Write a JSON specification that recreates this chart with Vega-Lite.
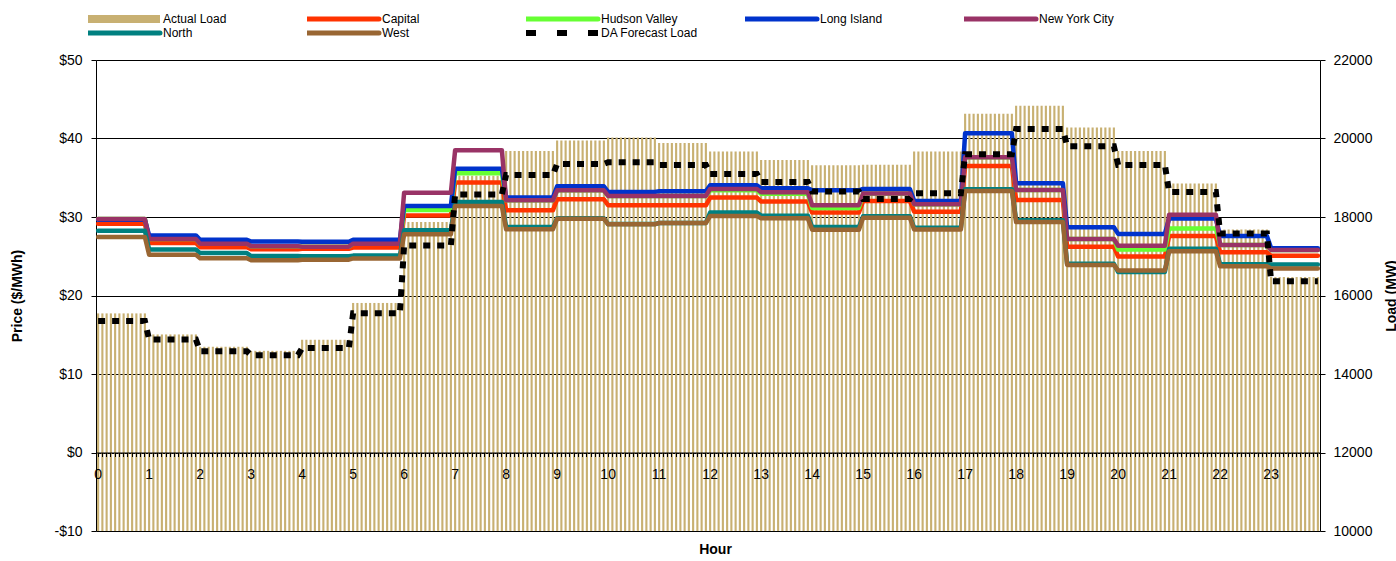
{
"$schema": "https://vega.github.io/schema/vega-lite/v6.json",
"width": 1224, "height": 471,
"autosize": {"type": "none"},
"padding": {"left": 96, "top": 60, "right": 76, "bottom": 30},
"config": {"font": "Liberation Sans", "view": {"stroke": null},
 "axis": {"labelColor": "#000", "titleColor": "#000", "domainColor": "#000", "tickColor": "#000", "labelFont": "Liberation Sans", "titleFont": "Liberation Sans"}},
"datasets": {
"five": [
{"t":0,"h":0,"L":15544},{"t":1,"h":0,"L":15544},{"t":2,"h":0,"L":15544},{"t":3,"h":0,"L":15544},{"t":4,"h":0,"L":15544},{"t":5,"h":0,"L":15544},{"t":6,"h":0,"L":15544},{"t":7,"h":0,"L":15544},{"t":8,"h":0,"L":15544},{"t":9,"h":0,"L":15544},{"t":10,"h":0,"L":15544},{"t":11,"h":0,"L":15544},
{"t":12,"h":1,"L":15008},{"t":13,"h":1,"L":15008},{"t":14,"h":1,"L":15008},{"t":15,"h":1,"L":15008},{"t":16,"h":1,"L":15008},{"t":17,"h":1,"L":15008},{"t":18,"h":1,"L":15008},{"t":19,"h":1,"L":15008},{"t":20,"h":1,"L":15008},{"t":21,"h":1,"L":15008},{"t":22,"h":1,"L":15008},{"t":23,"h":1,"L":15008},
{"t":24,"h":2,"L":14694},{"t":25,"h":2,"L":14694},{"t":26,"h":2,"L":14694},{"t":27,"h":2,"L":14694},{"t":28,"h":2,"L":14694},{"t":29,"h":2,"L":14694},{"t":30,"h":2,"L":14694},{"t":31,"h":2,"L":14694},{"t":32,"h":2,"L":14694},{"t":33,"h":2,"L":14694},{"t":34,"h":2,"L":14694},{"t":35,"h":2,"L":14694},
{"t":36,"h":3,"L":14590},{"t":37,"h":3,"L":14590},{"t":38,"h":3,"L":14590},{"t":39,"h":3,"L":14590},{"t":40,"h":3,"L":14590},{"t":41,"h":3,"L":14590},{"t":42,"h":3,"L":14590},{"t":43,"h":3,"L":14590},{"t":44,"h":3,"L":14590},{"t":45,"h":3,"L":14590},{"t":46,"h":3,"L":14590},{"t":47,"h":3,"L":14590},
{"t":48,"h":4,"L":14872},{"t":49,"h":4,"L":14872},{"t":50,"h":4,"L":14872},{"t":51,"h":4,"L":14872},{"t":52,"h":4,"L":14872},{"t":53,"h":4,"L":14872},{"t":54,"h":4,"L":14872},{"t":55,"h":4,"L":14872},{"t":56,"h":4,"L":14872},{"t":57,"h":4,"L":14872},{"t":58,"h":4,"L":14872},{"t":59,"h":4,"L":14872},
{"t":60,"h":5,"L":15810},{"t":61,"h":5,"L":15810},{"t":62,"h":5,"L":15810},{"t":63,"h":5,"L":15810},{"t":64,"h":5,"L":15810},{"t":65,"h":5,"L":15810},{"t":66,"h":5,"L":15810},{"t":67,"h":5,"L":15810},{"t":68,"h":5,"L":15810},{"t":69,"h":5,"L":15810},{"t":70,"h":5,"L":15810},{"t":71,"h":5,"L":15810},
{"t":72,"h":6,"L":17870},{"t":73,"h":6,"L":17870},{"t":74,"h":6,"L":17870},{"t":75,"h":6,"L":17870},{"t":76,"h":6,"L":17870},{"t":77,"h":6,"L":17870},{"t":78,"h":6,"L":17870},{"t":79,"h":6,"L":17870},{"t":80,"h":6,"L":17870},{"t":81,"h":6,"L":17870},{"t":82,"h":6,"L":17870},{"t":83,"h":6,"L":17870},
{"t":84,"h":7,"L":19050},{"t":85,"h":7,"L":19050},{"t":86,"h":7,"L":19050},{"t":87,"h":7,"L":19050},{"t":88,"h":7,"L":19050},{"t":89,"h":7,"L":19050},{"t":90,"h":7,"L":19050},{"t":91,"h":7,"L":19050},{"t":92,"h":7,"L":19050},{"t":93,"h":7,"L":19050},{"t":94,"h":7,"L":19050},{"t":95,"h":7,"L":19050},
{"t":96,"h":8,"L":19684},{"t":97,"h":8,"L":19684},{"t":98,"h":8,"L":19684},{"t":99,"h":8,"L":19684},{"t":100,"h":8,"L":19684},{"t":101,"h":8,"L":19684},{"t":102,"h":8,"L":19684},{"t":103,"h":8,"L":19684},{"t":104,"h":8,"L":19684},{"t":105,"h":8,"L":19684},{"t":106,"h":8,"L":19684},{"t":107,"h":8,"L":19684},
{"t":108,"h":9,"L":19948},{"t":109,"h":9,"L":19948},{"t":110,"h":9,"L":19948},{"t":111,"h":9,"L":19948},{"t":112,"h":9,"L":19948},{"t":113,"h":9,"L":19948},{"t":114,"h":9,"L":19948},{"t":115,"h":9,"L":19948},{"t":116,"h":9,"L":19948},{"t":117,"h":9,"L":19948},{"t":118,"h":9,"L":19948},{"t":119,"h":9,"L":19948},
{"t":120,"h":10,"L":20024},{"t":121,"h":10,"L":20024},{"t":122,"h":10,"L":20024},{"t":123,"h":10,"L":20024},{"t":124,"h":10,"L":20024},{"t":125,"h":10,"L":20024},{"t":126,"h":10,"L":20024},{"t":127,"h":10,"L":20024},{"t":128,"h":10,"L":20024},{"t":129,"h":10,"L":20024},{"t":130,"h":10,"L":20024},{"t":131,"h":10,"L":20024},
{"t":132,"h":11,"L":19888},{"t":133,"h":11,"L":19888},{"t":134,"h":11,"L":19888},{"t":135,"h":11,"L":19888},{"t":136,"h":11,"L":19888},{"t":137,"h":11,"L":19888},{"t":138,"h":11,"L":19888},{"t":139,"h":11,"L":19888},{"t":140,"h":11,"L":19888},{"t":141,"h":11,"L":19888},{"t":142,"h":11,"L":19888},{"t":143,"h":11,"L":19888},
{"t":144,"h":12,"L":19668},{"t":145,"h":12,"L":19668},{"t":146,"h":12,"L":19668},{"t":147,"h":12,"L":19668},{"t":148,"h":12,"L":19668},{"t":149,"h":12,"L":19668},{"t":150,"h":12,"L":19668},{"t":151,"h":12,"L":19668},{"t":152,"h":12,"L":19668},{"t":153,"h":12,"L":19668},{"t":154,"h":12,"L":19668},{"t":155,"h":12,"L":19668},
{"t":156,"h":13,"L":19454},{"t":157,"h":13,"L":19454},{"t":158,"h":13,"L":19454},{"t":159,"h":13,"L":19454},{"t":160,"h":13,"L":19454},{"t":161,"h":13,"L":19454},{"t":162,"h":13,"L":19454},{"t":163,"h":13,"L":19454},{"t":164,"h":13,"L":19454},{"t":165,"h":13,"L":19454},{"t":166,"h":13,"L":19454},{"t":167,"h":13,"L":19454},
{"t":168,"h":14,"L":19320},{"t":169,"h":14,"L":19320},{"t":170,"h":14,"L":19320},{"t":171,"h":14,"L":19320},{"t":172,"h":14,"L":19320},{"t":173,"h":14,"L":19320},{"t":174,"h":14,"L":19320},{"t":175,"h":14,"L":19320},{"t":176,"h":14,"L":19320},{"t":177,"h":14,"L":19320},{"t":178,"h":14,"L":19320},{"t":179,"h":14,"L":19320},
{"t":180,"h":15,"L":19330},{"t":181,"h":15,"L":19330},{"t":182,"h":15,"L":19330},{"t":183,"h":15,"L":19330},{"t":184,"h":15,"L":19330},{"t":185,"h":15,"L":19330},{"t":186,"h":15,"L":19330},{"t":187,"h":15,"L":19330},{"t":188,"h":15,"L":19330},{"t":189,"h":15,"L":19330},{"t":190,"h":15,"L":19330},{"t":191,"h":15,"L":19330},
{"t":192,"h":16,"L":19668},{"t":193,"h":16,"L":19668},{"t":194,"h":16,"L":19668},{"t":195,"h":16,"L":19668},{"t":196,"h":16,"L":19668},{"t":197,"h":16,"L":19668},{"t":198,"h":16,"L":19668},{"t":199,"h":16,"L":19668},{"t":200,"h":16,"L":19668},{"t":201,"h":16,"L":19668},{"t":202,"h":16,"L":19668},{"t":203,"h":16,"L":19668},
{"t":204,"h":17,"L":20630},{"t":205,"h":17,"L":20630},{"t":206,"h":17,"L":20630},{"t":207,"h":17,"L":20630},{"t":208,"h":17,"L":20630},{"t":209,"h":17,"L":20630},{"t":210,"h":17,"L":20630},{"t":211,"h":17,"L":20630},{"t":212,"h":17,"L":20630},{"t":213,"h":17,"L":20630},{"t":214,"h":17,"L":20630},{"t":215,"h":17,"L":20630},
{"t":216,"h":18,"L":20835},{"t":217,"h":18,"L":20835},{"t":218,"h":18,"L":20835},{"t":219,"h":18,"L":20835},{"t":220,"h":18,"L":20835},{"t":221,"h":18,"L":20835},{"t":222,"h":18,"L":20835},{"t":223,"h":18,"L":20835},{"t":224,"h":18,"L":20835},{"t":225,"h":18,"L":20835},{"t":226,"h":18,"L":20835},{"t":227,"h":18,"L":20835},
{"t":228,"h":19,"L":20280},{"t":229,"h":19,"L":20280},{"t":230,"h":19,"L":20280},{"t":231,"h":19,"L":20280},{"t":232,"h":19,"L":20280},{"t":233,"h":19,"L":20280},{"t":234,"h":19,"L":20280},{"t":235,"h":19,"L":20280},{"t":236,"h":19,"L":20280},{"t":237,"h":19,"L":20280},{"t":238,"h":19,"L":20280},{"t":239,"h":19,"L":20280},
{"t":240,"h":20,"L":19684},{"t":241,"h":20,"L":19684},{"t":242,"h":20,"L":19684},{"t":243,"h":20,"L":19684},{"t":244,"h":20,"L":19684},{"t":245,"h":20,"L":19684},{"t":246,"h":20,"L":19684},{"t":247,"h":20,"L":19684},{"t":248,"h":20,"L":19684},{"t":249,"h":20,"L":19684},{"t":250,"h":20,"L":19684},{"t":251,"h":20,"L":19684},
{"t":252,"h":21,"L":18852},{"t":253,"h":21,"L":18852},{"t":254,"h":21,"L":18852},{"t":255,"h":21,"L":18852},{"t":256,"h":21,"L":18852},{"t":257,"h":21,"L":18852},{"t":258,"h":21,"L":18852},{"t":259,"h":21,"L":18852},{"t":260,"h":21,"L":18852},{"t":261,"h":21,"L":18852},{"t":262,"h":21,"L":18852},{"t":263,"h":21,"L":18852},
{"t":264,"h":22,"L":17680},{"t":265,"h":22,"L":17680},{"t":266,"h":22,"L":17680},{"t":267,"h":22,"L":17680},{"t":268,"h":22,"L":17680},{"t":269,"h":22,"L":17680},{"t":270,"h":22,"L":17680},{"t":271,"h":22,"L":17680},{"t":272,"h":22,"L":17680},{"t":273,"h":22,"L":17680},{"t":274,"h":22,"L":17680},{"t":275,"h":22,"L":17680},
{"t":276,"h":23,"L":16470},{"t":277,"h":23,"L":16470},{"t":278,"h":23,"L":16470},{"t":279,"h":23,"L":16470},{"t":280,"h":23,"L":16470},{"t":281,"h":23,"L":16470},{"t":282,"h":23,"L":16470},{"t":283,"h":23,"L":16470},{"t":284,"h":23,"L":16470},{"t":285,"h":23,"L":16470},{"t":286,"h":23,"L":16470},{"t":287,"h":23,"L":16470}
],
"hourly": [
{"h":0,"C":29.15,"HV":29.75,"LI":29.65,"NYC":29.75,"N":28.25,"W":27.45,"DA":15348},
{"h":1,"C":26.7,"HV":27.2,"LI":27.65,"NYC":27.2,"N":25.85,"W":25.2,"DA":14880},
{"h":2,"C":26.15,"HV":26.6,"LI":27.1,"NYC":26.6,"N":25.4,"W":24.75,"DA":14582},
{"h":3,"C":25.9,"HV":26.28,"LI":26.88,"NYC":26.28,"N":25.02,"W":24.5,"DA":14480},
{"h":4,"C":25.95,"HV":26.22,"LI":26.85,"NYC":26.22,"N":25.0,"W":24.56,"DA":14660},
{"h":5,"C":26.1,"HV":26.6,"LI":27.1,"NYC":26.6,"N":25.08,"W":24.72,"DA":15550},
{"h":6,"C":30.2,"HV":30.9,"LI":31.4,"NYC":33.1,"N":28.3,"W":27.8,"DA":17275},
{"h":7,"C":34.4,"HV":35.57,"LI":36.15,"NYC":38.5,"N":31.9,"W":31.4,"DA":18575},
{"h":8,"C":30.85,"HV":32.13,"LI":32.47,"NYC":32.13,"N":28.73,"W":28.43,"DA":19072},
{"h":9,"C":32.26,"HV":33.4,"LI":33.92,"NYC":33.4,"N":29.83,"W":29.79,"DA":19352},
{"h":10,"C":31.49,"HV":32.68,"LI":33.2,"NYC":32.68,"N":29.1,"W":29.07,"DA":19396},
{"h":11,"C":31.49,"HV":32.68,"LI":33.28,"NYC":32.68,"N":29.24,"W":29.24,"DA":19328},
{"h":12,"C":32.47,"HV":33.4,"LI":34.04,"NYC":33.58,"N":30.56,"W":30.13,"DA":19098},
{"h":13,"C":31.96,"HV":32.95,"LI":33.66,"NYC":33.15,"N":30.17,"W":29.83,"DA":18894},
{"h":14,"C":30.56,"HV":31.15,"LI":33.4,"NYC":31.49,"N":28.73,"W":28.39,"DA":18648},
{"h":15,"C":32.04,"HV":32.98,"LI":33.58,"NYC":32.98,"N":30.09,"W":29.92,"DA":18460},
{"h":16,"C":30.68,"HV":31.62,"LI":32.05,"NYC":31.62,"N":28.64,"W":28.4,"DA":18604},
{"h":17,"C":36.5,"HV":37.6,"LI":40.68,"NYC":37.6,"N":33.55,"W":33.3,"DA":19598},
{"h":18,"C":32.17,"HV":33.45,"LI":34.3,"NYC":33.45,"N":29.58,"W":29.35,"DA":20240},
{"h":19,"C":26.2,"HV":27.2,"LI":28.7,"NYC":27.2,"N":24.05,"W":23.9,"DA":19804},
{"h":20,"C":24.97,"HV":25.85,"LI":27.85,"NYC":26.33,"N":23.0,"W":23.2,"DA":19328},
{"h":21,"C":27.58,"HV":28.53,"LI":29.82,"NYC":30.3,"N":25.95,"W":25.65,"DA":18638},
{"h":22,"C":25.5,"HV":26.43,"LI":27.58,"NYC":26.43,"N":23.98,"W":23.72,"DA":17580},
{"h":23,"C":25.06,"HV":25.8,"LI":26.03,"NYC":25.8,"N":23.95,"W":23.45,"DA":16360}
]
},
"data": {"name": "five"},
"transform": [{"lookup": "h", "from": {"data": {"name": "hourly"}, "key": "h", "fields": ["C","HV","LI","NYC","N","W","DA"]}}],
"encoding": {
 "x": {"field": "t", "type": "ordinal",
  "scale": {"paddingInner": 0.5, "paddingOuter": 0.25},
  "axis": {"title": "Hour", "titleFontSize": 14, "titleFontWeight": "bold", "titleY": 96.5, "titleX": 619, "titleBaseline": "middle",
   "offset": -78.5, "labelExpr": "datum.value % 12 === 0 ? '' + (datum.value / 12) : ''", "labelAngle": 0, "labelFontSize": 14,
   "labelPadding": 11, "tickSize": 4, "labelOverlap": false, "grid": false, "zindex": 1}}
},
"layer": [
 {"mark": {"type": "bar", "color": "#C8B072"},
  "encoding": {
   "y": {"field": "L", "type": "quantitative", "scale": {"domain": [10000, 22000], "nice": false, "zero": false},
    "axis": {"orient": "right", "values": [10000,12000,14000,16000,18000,20000,22000], "format": "d", "grid": false, "tickSize": 5, "labelPadding": 8, "labelFontSize": 14,
     "title": "Load (MW)", "titleFontSize": 14, "titleFontWeight": "bold", "titleAngle": 270, "titleX": 71, "titleY": 235.5, "titleBaseline": "middle", "titleAlign": "center"}},
   "y2": {"datum": 10000},
   "color": {"datum": "Actual Load", "type": "nominal",
    "scale": {"domain": ["Actual Load","Capital","Hudson Valley","Long Island","New York City","North","West","DA Forecast Load"], "range": ["#C8B072","#FF3300","#66FF33","#0033CC","#993366","#008080","#996633","#000000"]},
    "legend": {"title": null, "orient": "none", "direction": "horizontal", "legendX": -8, "legendY": -47.5, "columns": 5, "gridAlign": "all", "columnPadding": 47, "rowPadding": 1, "clipHeight": 13,
     "symbolType": "M-3,0H33", "symbolSize": 16, "symbolStrokeWidth": 4, "labelOffset": 63, "labelFontSize": 12, "labelColor": "#000", "labelFont": "Liberation Sans", "padding": 0, "offset": 0,
     "encode": {"symbols": {"update": {"stroke": {"scale": "color", "field": "value"}, "fill": {"value": "transparent"}, "opacity": {"value": 1},
      "strokeWidth": {"signal": "datum.value === 'Actual Load' ? 8 : datum.value === 'DA Forecast Load' ? 6 : 5"},
      "strokeCap": {"signal": "datum.value === 'Actual Load' || datum.value === 'DA Forecast Load' ? 'butt' : 'round'"},
      "strokeDash": {"signal": "datum.value === 'DA Forecast Load' ? [10, 21] : [400, 0]"}}}}}}
  }},
 {"mark": {"type": "line", "strokeWidth": 4.5, "strokeJoin": "round", "strokeCap": "round"},
  "encoding": {
   "y": {"field": "C", "type": "quantitative", "scale": {"domain": [-10, 50], "nice": false, "zero": false},
    "axis": {"orient": "left", "values": [-10,0,10,20,30,40,50], "labelExpr": "datum.value < 0 ? '-$' + abs(datum.value) : '$' + datum.value",
     "grid": true, "gridColor": "#000", "gridOpacity": 1, "gridWidth": 1, "tickSize": 5, "labelPadding": 9, "labelFontSize": 14,
     "title": "Price ($/MWh)", "titleFontSize": 14, "titleFontWeight": "bold", "titleAngle": 270, "titleX": -79, "titleY": 235.5, "titleBaseline": "middle", "titleAlign": "center", "zindex": 0}},
   "color": {"datum": "Capital", "type": "nominal"}
  }},
 {"mark": {"type": "line", "strokeWidth": 4.5, "strokeJoin": "round", "strokeCap": "round"},
  "encoding": {
   "y": {"field": "HV", "type": "quantitative", "scale": {"domain": [-10, 50], "nice": false, "zero": false}, "axis": null},
   "color": {"datum": "Hudson Valley", "type": "nominal"}
  }},
 {"mark": {"type": "line", "strokeWidth": 4.5, "strokeJoin": "round", "strokeCap": "round"},
  "encoding": {
   "y": {"field": "LI", "type": "quantitative", "scale": {"domain": [-10, 50], "nice": false, "zero": false}, "axis": null},
   "color": {"datum": "Long Island", "type": "nominal"}
  }},
 {"mark": {"type": "line", "strokeWidth": 4.5, "strokeJoin": "round", "strokeCap": "round"},
  "encoding": {
   "y": {"field": "NYC", "type": "quantitative", "scale": {"domain": [-10, 50], "nice": false, "zero": false}, "axis": null},
   "color": {"datum": "New York City", "type": "nominal"}
  }},
 {"mark": {"type": "line", "strokeWidth": 4.5, "strokeJoin": "round", "strokeCap": "round"},
  "encoding": {
   "y": {"field": "N", "type": "quantitative", "scale": {"domain": [-10, 50], "nice": false, "zero": false}, "axis": null},
   "color": {"datum": "North", "type": "nominal"}
  }},
 {"mark": {"type": "line", "strokeWidth": 4.5, "strokeJoin": "round", "strokeCap": "round"},
  "encoding": {
   "y": {"field": "W", "type": "quantitative", "scale": {"domain": [-10, 50], "nice": false, "zero": false}, "axis": null},
   "color": {"datum": "West", "type": "nominal"}
  }},
 {"mark": {"type": "line", "strokeWidth": 6, "strokeDash": [7, 7], "strokeCap": "butt"},
  "encoding": {
   "y": {"field": "DA", "type": "quantitative", "scale": {"domain": [10000, 22000], "nice": false, "zero": false}, "axis": null},
   "color": {"datum": "DA Forecast Load", "type": "nominal"}
  }}
],
"resolve": {"scale": {"y": "independent"}, "axis": {"y": "independent"}}
}
